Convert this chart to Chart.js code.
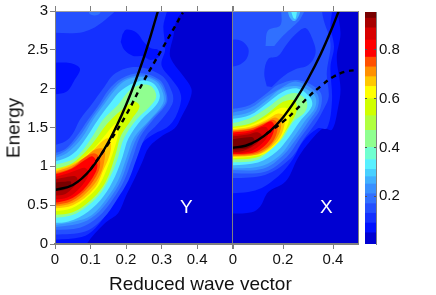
<!DOCTYPE html>
<html>
<head>
<meta charset="utf-8">
<title>Reduced wave vector</title>
<script src="https://cdn.jsdelivr.net/npm/chart.js@4"></script>
<style>
  html, body { margin: 0; background: #fff; }
  #wrap { position: relative; width: 436px; height: 295px; overflow: hidden; font-family: "Liberation Sans", Arial, sans-serif; color: #111; }
  canvas { position: absolute; top: 0; }
  .lbl { position: absolute; white-space: nowrap; line-height: 1; }
</style>
</head>
<body>
<div id="wrap">
  <canvas id="panel-y" width="240" height="295" style="left:0"></canvas>
  <canvas id="panel-x" width="192" height="295" style="left:177.7px"></canvas>
  <canvas id="bar" width="70" height="295" style="left:360px"></canvas>
  <div class="lbl" style="left:180px;top:197px;font-size:19px;color:#fff">Y</div>
  <div class="lbl" style="left:320px;top:197px;font-size:19px;color:#fff">X</div>
  <div class="lbl" style="left:109px;top:274px;font-size:19px">Reduced wave vector</div>
  <div class="lbl" style="left:13px;top:128px;font-size:19px;transform:translate(-50%,-50%) rotate(-90deg)">Energy</div>
</div>
<script>
/* tick labels */
const energyTicks = [0, 0.5, 1, 1.5, 2, 2.5, 3];
const energyLabels = ['0', '0.5', '1', '1.5', '2', '2.5', '3'];
const yWaveTicks = [0, 0.1, 0.2, 0.3, 0.4, 0.5];
const yWaveLabels = ['0', '0.1', '0.2', '0.3', '0.4', ''];
const xWaveTicks = [0, 0.2, 0.4];
const xWaveLabels = ['0', '0.2', '0.4'];
const barTicks = [0.2, 0.4, 0.6, 0.8];
const barLabels = ['0.2', '0.4', '0.6', '0.8'];

/* colour bands, bottom to top */
const bandEdges = [0.004, 0.05, 0.09, 0.13, 0.17, 0.21, 0.25, 0.28, 0.31, 0.35, 0.4, 0.47, 0.53, 0.6, 0.65, 0.69, 0.73, 0.77, 0.84, 0.89, 0.93, 0.955];
const bandColors = ['#0000d2', '#0010ff', '#1430ff', '#2450ff', '#3070ff', '#3890ff', '#40b0ff', '#48d0ff', '#58f0ff', '#70ffd0', '#90ff90',
  '#b0ff40', '#d0ff00', '#ffff00', '#ffc800', '#ff9000', '#ff5000', '#ff0000', '#d80000', '#a80000', '#780000'];

/* dispersion curves, panel Y */
const ySolid = [[0,0.695],[0.05,0.76],[0.1,0.96],[0.15,1.31],[0.2,1.79],[0.25,2.4],[0.29,3]];
const yDashed = [[0.1,0.96],[0.15,1.29],[0.2,1.66],[0.25,2.1],[0.3,2.5],[0.36,2.98]];
/* dispersion curves, panel X */
const xSolid = [[0,1.24],[0.05,1.265],[0.1,1.34],[0.15,1.46],[0.2,1.63],[0.25,1.855],[0.3,2.125],[0.35,2.44],[0.4,2.81],[0.423,3]];
const xDashed = [[0.135,1.42],[0.2,1.575],[0.25,1.72],[0.3,1.89],[0.35,2.03],[0.4,2.15],[0.45,2.22],[0.5,2.24]];

/* filled contours of panel Y: [wave vector, energy] */
const yBase = [[-0.02,-0.1],[0.52,-0.1],[0.52,3.1],[-0.02,3.1]];
const y1 = [[-0.02,-0.1],[0.085,-0.1],[0.089,0],[0.141,0.27],[0.178,0.4],[0.2,0.62],[0.225,0.85],[0.245,1.05],[0.265,1.25],[0.304,1.4],[0.337,1.49],[0.356,1.64],[0.379,1.85],[0.384,2],[0.36,2.17],[0.333,2.33],[0.323,2.45],[0.333,2.67],[0.342,2.88],[0.36,3],[0.37,3.1],[-0.02,3.1]];
const y2 = [[-0.02,0.05],[0.075,0.09],[0.113,0.2],[0.155,0.46],[0.192,0.76],[0.22,1.04],[0.246,1.3],[0.28,1.42],[0.315,1.5],[0.34,1.64],[0.355,1.85],[0.35,1.98],[0.33,2.11],[0.3,2.3],[0.31,2.5],[0.305,2.8],[0.31,3.1],[-0.02,3.1]];
const y2Hole1 = [[-0.02,2.33],[0.041,2.33],[0.07,2.26],[0.055,2.11],[0.032,1.96],[-0.02,1.92]];
const y2Hole2 = [[0.19,2.7],[0.2,2.76],[0.23,2.72],[0.25,2.6],[0.27,2.52],[0.29,2.5],[0.295,2.42],[0.27,2.37],[0.245,2.42],[0.22,2.42],[0.195,2.5],[0.185,2.6]];
const y3 = [[-0.02,1.25],[0.028,1.32],[0.05,1.42],[0.07,1.6],[0.105,1.81],[0.135,2],[0.17,2.2],[0.23,2.28],[0.3,2.17],[0.33,1.95],[0.33,1.8],[0.29,1.55],[0.255,1.38],[0.23,1.1],[0.207,0.82],[0.174,0.57],[0.136,0.33],[0.085,0.16],[-0.02,0.115]];
const y3Top = [[-0.02,2.72],[0.08,2.73],[0.14,2.88],[0.18,3.1],[-0.02,3.1]];
const y4Spot = [[0.095,3.1],[0.098,2.96],[0.125,2.96],[0.13,3.1]];
const y4 = [[-0.02,1.15],[0.028,1.22],[0.06,1.38],[0.093,1.6],[0.126,1.81],[0.15,1.98],[0.187,2.13],[0.243,2.2],[0.295,2.11],[0.314,1.94],[0.314,1.81],[0.276,1.6],[0.24,1.38],[0.218,1.1],[0.195,0.82],[0.162,0.57],[0.122,0.35],[0.07,0.21],[-0.02,0.18]];
const y5 = [[-0.02,1.1],[0.03,1.2],[0.068,1.38],[0.1,1.6],[0.133,1.81],[0.16,1.98],[0.195,2.12],[0.243,2.17],[0.29,2.1],[0.31,1.94],[0.31,1.81],[0.27,1.6],[0.232,1.38],[0.208,1.1],[0.186,0.82],[0.155,0.59],[0.113,0.37],[0.066,0.26],[-0.02,0.21]];
const y6 = [[-0.02,1.08],[0.033,1.17],[0.075,1.36],[0.107,1.6],[0.14,1.81],[0.168,1.98],[0.201,2.11],[0.243,2.15],[0.285,2.09],[0.304,1.94],[0.304,1.81],[0.267,1.6],[0.224,1.38],[0.202,1.12],[0.178,0.82],[0.146,0.59],[0.103,0.37],[0.056,0.29],[-0.02,0.23]];
const y8 = [[-0.02,1.04],[0.038,1.125],[0.066,1.23],[0.09,1.38],[0.121,1.6],[0.155,1.81],[0.187,1.98],[0.239,2.1],[0.276,2.07],[0.295,1.92],[0.285,1.79],[0.243,1.6],[0.207,1.36],[0.19,1.12],[0.169,0.87],[0.136,0.61],[0.094,0.42],[0.038,0.29],[-0.02,0.27]];
const y10 = [[-0.02,1],[0.047,1.08],[0.075,1.19],[0.105,1.38],[0.135,1.6],[0.177,1.79],[0.21,1.98],[0.243,2.05],[0.271,2.03],[0.285,1.9],[0.267,1.77],[0.229,1.6],[0.194,1.36],[0.178,1.12],[0.16,0.91],[0.131,0.67],[0.094,0.5],[0.047,0.37],[-0.02,0.33]];
const y12 = [[-0.02,0.95],[0.04,1.02],[0.075,1.14],[0.11,1.32],[0.145,1.54],[0.186,1.72],[0.224,1.83],[0.238,1.77],[0.215,1.6],[0.186,1.4],[0.172,1.18],[0.155,0.93],[0.135,0.74],[0.1,0.56],[0.05,0.41],[-0.02,0.37]];
const y13 = [[-0.02,0.93],[0.038,1],[0.075,1.1],[0.113,1.25],[0.141,1.4],[0.165,1.53],[0.178,1.55],[0.178,1.42],[0.165,1.2],[0.149,1],[0.127,0.78],[0.094,0.61],[0.047,0.46],[-0.02,0.416]];
const y14 = [[-0.02,0.92],[0.04,1.01],[0.08,1.11],[0.11,1.22],[0.135,1.33],[0.15,1.36],[0.158,1.27],[0.152,1.12],[0.137,0.96],[0.11,0.71],[0.05,0.5],[-0.02,0.45]];
const y15 = [[-0.02,0.9],[0.045,1],[0.085,1.12],[0.115,1.22],[0.138,1.22],[0.14,1.1],[0.128,0.9],[0.1,0.71],[0.05,0.53],[-0.02,0.47]];
const y16 = [[-0.02,0.885],[0.047,0.98],[0.08,1.1],[0.11,1.17],[0.126,1.1],[0.122,0.93],[0.09,0.71],[0.045,0.55],[-0.02,0.49]];
const y17 = [[-0.02,0.87],[0.047,0.97],[0.084,1.08],[0.105,1.13],[0.119,1.03],[0.113,0.91],[0.08,0.7],[0.038,0.57],[-0.02,0.52]];
const y18 = [[-0.02,0.84],[0.03,0.9],[0.06,0.95],[0.085,0.98],[0.095,0.9],[0.07,0.72],[0.035,0.6],[-0.02,0.57]];
const y19 = [[-0.02,0.815],[0.03,0.86],[0.058,0.87],[0.063,0.8],[0.04,0.68],[0.02,0.63],[-0.02,0.63]];
const y20 = [[-0.02,0.78],[0.025,0.8],[0.045,0.8],[0.04,0.73],[0.02,0.69],[-0.02,0.695]];

/* filled contours of panel X */
const x1 = [[-0.02,0.39],[0.075,0.41],[0.108,0.48],[0.141,0.67],[0.201,0.78],[0.228,0.89],[0.255,1.08],[0.295,1.27],[0.361,1.49],[0.396,1.47],[0.42,1.75],[0.43,2],[0.415,2.4],[0.43,2.7],[0.42,3],[0.43,3.1],[-0.02,3.1]];
const x2 = [[-0.02,0.65],[0.061,0.67],[0.115,0.72],[0.161,0.82],[0.2,0.93],[0.241,1.1],[0.28,1.32],[0.34,1.49],[0.376,1.49],[0.396,1.85],[0.39,2.28],[0.404,2.54],[0.39,2.8],[0.396,3],[0.396,3.1],[-0.02,3.1]];
const x3 = [[-0.02,0.845],[0.128,0.89],[0.23,1.1],[0.285,1.36],[0.33,1.55],[0.365,1.75],[0.383,1.9],[0.375,2.2],[0.39,2.58],[0.363,2.88],[0.356,3],[0.356,3.1],[-0.02,3.1]];
const x3Hole1 = [[-0.02,2.63],[0.03,2.62],[0.061,2.52],[0.055,2.39],[0.02,2.3],[-0.02,2.28]];
const x3Hole2 = [[0.135,2.03],[0.125,2.2],[0.14,2.38],[0.18,2.42],[0.21,2.55],[0.25,2.7],[0.29,2.78],[0.32,2.62],[0.33,2.45],[0.3,2.3],[0.25,2.25],[0.21,2.18],[0.18,2.1],[0.155,2.02]];
const x4Top = [[0.13,2.55],[0.14,2.75],[0.19,2.82],[0.2,3.1],[0.29,3.1],[0.27,2.9],[0.24,2.8],[0.2,2.68],[0.165,2.55]];
const x6Top = [[0.215,3.1],[0.225,2.93],[0.245,2.87],[0.265,2.95],[0.275,3.1]];
const x8Top = [[0.225,3.1],[0.24,2.92],[0.25,2.9],[0.26,3.1]];
const x4 = [[-0.02,1.73],[0.068,1.79],[0.135,1.94],[0.18,2.05],[0.26,2.11],[0.348,1.96],[0.35,1.75],[0.315,1.57],[0.268,1.36],[0.215,1.12],[0.128,0.93],[-0.02,0.91]];
const x5 = [[-0.02,1.68],[0.068,1.75],[0.135,1.9],[0.188,2],[0.255,2.09],[0.335,1.94],[0.34,1.77],[0.3,1.57],[0.255,1.36],[0.2,1.14],[0.12,0.97],[-0.02,0.95]];
const x6 = [[-0.02,1.64],[0.068,1.7],[0.135,1.85],[0.195,2],[0.26,2.03],[0.325,1.92],[0.33,1.77],[0.285,1.57],[0.24,1.36],[0.19,1.15],[0.11,1],[-0.02,0.97]];
const x8 = [[-0.02,1.6],[0.068,1.66],[0.135,1.81],[0.2,1.96],[0.261,2],[0.31,1.88],[0.315,1.77],[0.268,1.58],[0.221,1.36],[0.175,1.19],[0.1,1.05],[-0.02,1.01]];
const x10 = [[-0.02,1.54],[0.068,1.62],[0.135,1.75],[0.2,1.9],[0.255,1.94],[0.295,1.83],[0.288,1.7],[0.24,1.57],[0.2,1.36],[0.161,1.25],[0.095,1.08],[-0.02,1.05]];
const x12 = [[-0.02,1.5],[0.068,1.55],[0.135,1.67],[0.2,1.83],[0.245,1.85],[0.255,1.72],[0.23,1.55],[0.19,1.36],[0.15,1.22],[0.09,1.11],[-0.02,1.085]];
const x13 = [[-0.02,1.485],[0.068,1.53],[0.135,1.64],[0.19,1.75],[0.225,1.73],[0.225,1.6],[0.2,1.4],[0.17,1.27],[0.13,1.17],[0.08,1.13],[-0.02,1.1]];
const x14 = [[-0.02,1.47],[0.068,1.51],[0.135,1.6],[0.18,1.68],[0.205,1.65],[0.205,1.52],[0.185,1.36],[0.15,1.24],[0.1,1.15],[-0.02,1.115]];
const x15 = [[-0.02,1.46],[0.068,1.49],[0.135,1.58],[0.168,1.63],[0.19,1.58],[0.19,1.47],[0.17,1.34],[0.135,1.22],[0.09,1.15],[-0.02,1.13]];
const x16 = [[-0.02,1.45],[0.068,1.48],[0.13,1.56],[0.16,1.6],[0.178,1.55],[0.175,1.43],[0.155,1.3],[0.12,1.21],[0.08,1.16],[-0.02,1.14]];
const x17 = [[-0.02,1.43],[0.068,1.46],[0.12,1.53],[0.15,1.58],[0.165,1.53],[0.16,1.42],[0.14,1.31],[0.105,1.21],[0.07,1.17],[-0.02,1.155]];
const x18 = [[-0.02,1.4],[0.068,1.44],[0.11,1.5],[0.135,1.5],[0.14,1.4],[0.115,1.29],[0.075,1.2],[0.03,1.17],[-0.02,1.17]];
const x19 = [[-0.02,1.38],[0.06,1.41],[0.095,1.44],[0.115,1.4],[0.1,1.31],[0.07,1.24],[0.03,1.19],[-0.02,1.19]];
const x20 = [[-0.02,1.34],[0.05,1.37],[0.08,1.37],[0.085,1.3],[0.06,1.24],[0.03,1.22],[-0.02,1.21]];

/* paint order, low level first: [colour band, contour] */
const layersY = [[0,yBase],[1,y1],[2,y2],[1,y2Hole1],[1,y2Hole2],[3,y3Top],[3,y3],[4,y4Spot],[4,y4],[5,y5],[6,y6],[8,y8],[10,y10],[12,y12],[13,y13],[14,y14],[15,y15],[16,y16],[17,y17],[18,y18],[19,y19],[20,y20]];
const layersX = [[0,yBase],[1,x1],[2,x2],[3,x3],[2,x3Hole1],[2,x3Hole2],[4,x4Top],[6,x6Top],[8,x8Top],[4,x4],[5,x5],[6,x6],[8,x8],[10,x10],[12,x12],[13,x13],[14,x14],[15,x15],[16,x16],[17,x17],[18,x18],[19,x19],[20,x20]];

const GREY = '#808080';
const tickFont = { family: '"Liberation Sans", Arial, sans-serif', size: 15 };

function setTicks(values) {
  return (axis) => { axis.ticks = values.map((v) => ({ value: v })); };
}

function fixedHeight(h) {
  return (axis) => { axis.height = h; };
}

function panelDatasets(layers, solid, dashed) {
  const sets = layers.map(([band, pts], i) => ({
    data: pts,
    showLine: true,
    fill: 'shape',
    backgroundColor: bandColors[band],
    borderWidth: 0,
    pointRadius: 0,
    tension: 0.35,
    order: layers.length - i + 2,
  }));
  sets.push({ data: dashed, showLine: true, borderColor: '#000', borderWidth: 2.4, borderDash: [5, 4.5], pointRadius: 0, tension: 0.4, order: 1 });
  sets.push({ data: solid, showLine: true, borderColor: '#000', borderWidth: 2.4, pointRadius: 0, tension: 0.4, order: 0 });
  return sets;
}

function panelChart(id, sets, xTicks, xLabels, padding, withEnergy) {
  return new Chart(document.getElementById(id), {
    type: 'scatter',
    data: { datasets: sets },
    options: {
      responsive: false,
      animation: false,
      layout: { padding },
      elements: { line: { capBezierPoints: false } },
      plugins: { legend: { display: false }, tooltip: { enabled: false } },
      scales: {
        x: {
          type: 'linear', position: 'bottom', min: 0, max: 0.5,
          afterBuildTicks: setTicks(xTicks),
          afterFit: fixedHeight(51),
          border: { color: GREY, width: 2, z: 1 },
          grid: { color: GREY, drawOnChartArea: false, tickLength: 5, lineWidth: 1 },
          ticks: { color: '#111', font: tickFont, maxRotation: 0, autoSkip: false, padding: 2, callback: (v, i) => xLabels[i] },
        },
        xTop: {
          type: 'linear', position: 'top', min: 0, max: 0.5,
          afterBuildTicks: setTicks(xTicks),
          afterFit: fixedHeight(11),
          border: { color: '#a0a0a0', width: 1, z: 1 },
          grid: { color: GREY, drawOnChartArea: false, tickLength: 5, lineWidth: 1 },
          ticks: { font: { size: 1 }, padding: 0, autoSkip: false, callback: () => '' },
        },
        y: {
          type: 'linear', position: 'left', min: 0, max: 3, display: withEnergy,
          afterBuildTicks: setTicks(energyTicks),
          afterFit: (axis) => { axis.width = 55; },
          border: { color: GREY, width: 1, z: 1 },
          grid: { color: GREY, drawOnChartArea: false, tickLength: 5, lineWidth: 1 },
          ticks: { color: '#111', font: tickFont, padding: 2, autoSkip: false, callback: (v, i) => energyLabels[i] },
        },
        yRight: {
          type: 'linear', position: 'right', min: 0, max: 3,
          afterFit: (axis) => { axis.width = 0; },
          border: { color: GREY, width: 1, z: 1 },
          grid: { display: false },
          ticks: { display: false },
        },
      },
    },
  });
}

panelChart('panel-y', panelDatasets(layersY, ySolid, yDashed), yWaveTicks, yWaveLabels, { right: 7.4 }, true);
panelChart('panel-x', panelDatasets(layersX, xSolid, xDashed), xWaveTicks, xWaveLabels, { right: 12 }, false);

new Chart(document.getElementById('bar'), {
  type: 'bar',
  data: {
    labels: [''],
    datasets: bandColors.map((c, i) => ({
      data: [[bandEdges[i], bandEdges[i + 1]]],
      backgroundColor: c,
      barPercentage: 1,
      categoryPercentage: 1,
      grouped: false,
    })),
  },
  options: {
    responsive: false,
    animation: false,
    layout: { padding: { left: 5, top: 11, bottom: 51 } },
    plugins: { legend: { display: false }, tooltip: { enabled: false } },
    scales: {
      x: { display: false },
      y: {
        position: 'right', min: 0.004, max: 0.955,
        afterBuildTicks: setTicks(barTicks),
        afterFit: (axis) => { axis.width = 54; },
        border: { color: GREY, width: 1, z: 1, dash: [2, 7, 2, 0] },
        grid: { color: '#555', z: 1, tickLength: 0 },
        ticks: { color: '#111', font: tickFont, padding: 3, autoSkip: false, callback: (v, i) => barLabels[i] },
      },
    },
  },
});
</script>
</body>
</html>
